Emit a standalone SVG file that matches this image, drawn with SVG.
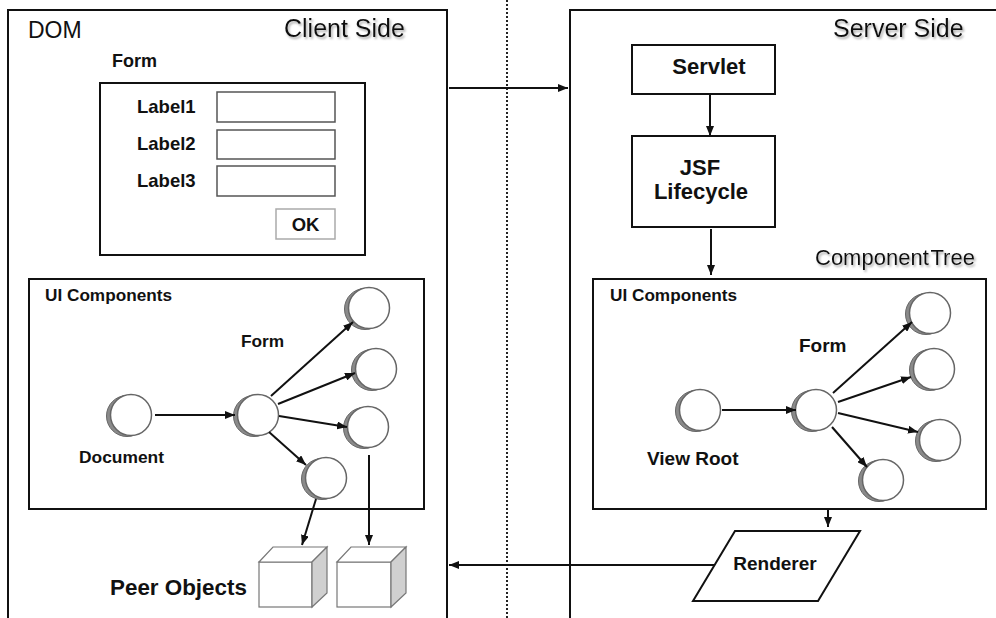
<svg xmlns="http://www.w3.org/2000/svg" xmlns:xlink="http://www.w3.org/1999/xlink" width="996" height="618" viewBox="0 0 996 618">
<style>
.box{fill:#fff;stroke:#111;stroke-width:2}
.inp{fill:#fff;stroke:#555;stroke-width:1.5}
.t{font-family:"Liberation Sans",Arial,sans-serif;fill:#111}
.b{font-weight:bold}
.title{font-size:25px;filter:url(#sh)}
.c{stroke:#111;stroke-width:2;fill:none;marker-end:url(#ah)}
</style>
<defs>
<filter id="sh" x="-10%" y="-30%" width="130%" height="180%">
<feDropShadow dx="1.5" dy="2" stdDeviation="1.2" flood-color="#999" flood-opacity="0.8"/>
</filter>
<marker id="ah" markerWidth="10" markerHeight="8" refX="10" refY="4" orient="auto" markerUnits="userSpaceOnUse">
<path d="M0,0 L10,4 L0,8 z" fill="#111"/>
</marker>
<g id="circ">
<circle cx="-4" cy="1" r="20.5" fill="#8a8a8a" stroke="#666" stroke-width="1"/>
<circle cx="0" cy="0" r="20.5" fill="#fff" stroke="#666" stroke-width="1.5"/>
</g>
</defs>
<rect width="996" height="618" fill="#fff"/>

<line x1="507" y1="0" x2="507" y2="618" stroke="#222" stroke-width="2" stroke-dasharray="2,2"/>

<g id="client-side">
<rect class="box" x="8" y="10" width="439" height="620"/>
<text class="t" x="28" y="38" font-size="23">DOM</text>
<text class="t title" x="284" y="37">Client Side</text>
</g>

<g id="form-widget">
<text class="t b" x="112" y="67" font-size="18">Form</text>
<rect class="box" x="100" y="83" width="265" height="172"/>
<text class="t b" x="137" y="113" font-size="18.5">Label1</text>
<text class="t b" x="137" y="150" font-size="18.5">Label2</text>
<text class="t b" x="137" y="187" font-size="18.5">Label3</text>
<rect class="inp" x="217" y="92" width="118" height="30"/>
<rect class="inp" x="217" y="130" width="118" height="29"/>
<rect class="inp" x="217" y="166" width="118" height="30"/>
<rect x="276" y="209" width="59" height="30" fill="#fff" stroke="#aaa" stroke-width="1.5"/>
<text class="t b" x="305.5" y="231" font-size="18.5" text-anchor="middle">OK</text>
</g>

<g id="client-ui">
<rect class="box" x="29" y="279" width="395" height="230"/>
<text class="t b" x="45" y="301" font-size="17.2">UI Components</text>
<text class="t b" x="241" y="347" font-size="17.3">Form</text>
<text class="t b" x="79" y="463" font-size="17.4">Document</text>
</g>
<g id="c-document"><use xlink:href="#circ" x="131" y="415"/></g>
<g id="c-form"><use xlink:href="#circ" x="258" y="415"/></g>
<g id="c-child1"><use xlink:href="#circ" x="369" y="308"/></g>
<g id="c-child2"><use xlink:href="#circ" x="376" y="369"/></g>
<g id="c-child3"><use xlink:href="#circ" x="368" y="427"/></g>
<g id="c-child4"><use xlink:href="#circ" x="326" y="478"/></g>

<g id="peer-objects">
<text class="t b" x="110" y="595" font-size="22.4">Peer Objects</text>
<g id="cube1">
<rect x="259" y="562" width="53" height="45" fill="#fff" stroke="#777" stroke-width="1.2"/>
<path d="M259,562 L273,547 L327,547 L312,562 Z" fill="#fff" stroke="#777" stroke-width="1.2"/>
<path d="M312,562 L327,547 L327,593 L312,607 Z" fill="#d0d0d0" stroke="#777" stroke-width="1.2"/>
</g>
<g id="cube2">
<rect x="337" y="562" width="54" height="45" fill="#fff" stroke="#777" stroke-width="1.2"/>
<path d="M337,562 L351,547 L406,547 L391,562 Z" fill="#fff" stroke="#777" stroke-width="1.2"/>
<path d="M391,562 L406,547 L406,593 L391,607 Z" fill="#d0d0d0" stroke="#777" stroke-width="1.2"/>
</g>
</g>

<g id="server-side">
<rect class="box" x="570" y="10" width="440" height="620"/>
<text class="t title" x="833" y="37">Server Side</text>
<text class="t" x="815" y="265" font-size="22" word-spacing="-4" filter="url(#sh)">Component Tree</text>
</g>
<g id="servlet">
<rect class="box" x="632" y="45" width="143" height="49"/>
<text class="t b" x="709" y="74" font-size="22" text-anchor="middle">Servlet</text>
</g>
<g id="jsf-lifecycle">
<rect class="box" x="632" y="136" width="143" height="91"/>
<text class="t b" x="700" y="175" font-size="22" text-anchor="middle">JSF</text>
<text class="t b" x="701" y="199" font-size="22" text-anchor="middle">Lifecycle</text>
</g>
<g id="server-ui">
<rect class="box" x="593" y="279" width="393" height="230"/>
<text class="t b" x="610" y="301" font-size="17.2">UI Components</text>
<text class="t b" x="799" y="352" font-size="19">Form</text>
<text class="t b" x="647" y="465" font-size="19">View Root</text>
</g>
<g id="s-viewroot"><use xlink:href="#circ" x="700" y="410"/></g>
<g id="s-form"><use xlink:href="#circ" x="816" y="410"/></g>
<g id="s-child1"><use xlink:href="#circ" x="930" y="313"/></g>
<g id="s-child2"><use xlink:href="#circ" x="934" y="369"/></g>
<g id="s-child3"><use xlink:href="#circ" x="940" y="440"/></g>
<g id="s-child4"><use xlink:href="#circ" x="883" y="480"/></g>
<g id="renderer">
<path d="M735,531 L860,531 L818,601 L693,601 Z" fill="#fff" stroke="#111" stroke-width="2"/>
<text class="t b" x="775" y="570" font-size="19" text-anchor="middle">Renderer</text>
</g>

<g id="connectors">
<line class="c" x1="449" y1="88" x2="568" y2="88"/>
<line class="c" x1="714" y1="565" x2="449" y2="565"/>
<line class="c" x1="155" y1="415" x2="235" y2="415"/>
<line class="c" x1="271" y1="396" x2="353" y2="322"/>
<line class="c" x1="278" y1="404" x2="355" y2="373"/>
<line class="c" x1="279" y1="416" x2="347" y2="427"/>
<line class="c" x1="269" y1="432" x2="306" y2="465"/>
<line class="c" x1="316" y1="499" x2="302" y2="545"/>
<line class="c" x1="369" y1="455" x2="369" y2="545"/>
<line class="c" x1="710" y1="95" x2="710" y2="136"/>
<line class="c" x1="711" y1="229" x2="711" y2="275"/>
<line class="c" x1="722" y1="410" x2="796" y2="410"/>
<line class="c" x1="833" y1="393" x2="912" y2="322"/>
<line class="c" x1="838" y1="402" x2="911" y2="377"/>
<line class="c" x1="838" y1="413" x2="918" y2="432"/>
<line class="c" x1="832" y1="427" x2="867" y2="467"/>
<line class="c" x1="828" y1="509" x2="828" y2="527"/>
</g>
</svg>
